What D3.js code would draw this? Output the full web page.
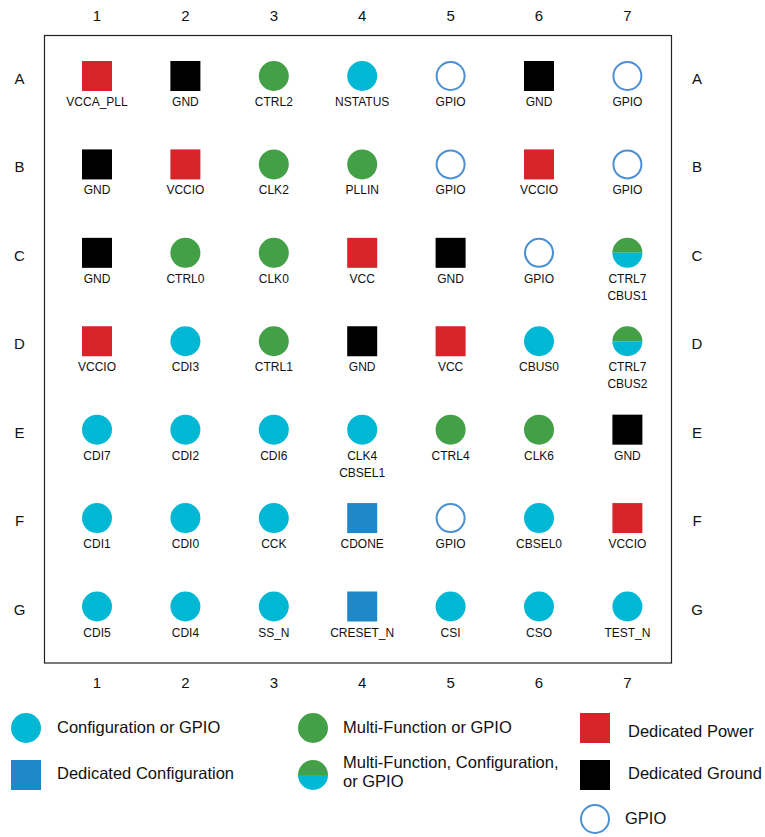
<!DOCTYPE html>
<html>
<head>
<meta charset="utf-8">
<script src="https://cdn.jsdelivr.net/npm/d3@7"></script>
<style>
  body { margin: 0; background: #fff; }
  text { font-family: "Liberation Sans", Arial, sans-serif; fill: #111; }
</style>
</head>
<body>
<svg id="pinout" width="765" height="837"></svg>
<script>
// pin grid data
var columns = ["1", "2", "3", "4", "5", "6", "7"];
var rows = ["A", "B", "C", "D", "E", "F", "G"];

// pin names, row by row (\n = second line)
var pinNames = [
    ["VCCA_PLL", "GND", "CTRL2", "NSTATUS", "GPIO", "GND", "GPIO"],
    ["GND", "VCCIO", "CLK2", "PLLIN", "GPIO", "VCCIO", "GPIO"],
    ["GND", "CTRL0", "CLK0", "VCC", "GND", "GPIO", "CTRL7\nCBUS1"],
    ["VCCIO", "CDI3", "CTRL1", "GND", "VCC", "CBUS0", "CTRL7\nCBUS2"],
    ["CDI7", "CDI2", "CDI6", "CLK4\nCBSEL1", "CTRL4", "CLK6", "GND"],
    ["CDI1", "CDI0", "CCK", "CDONE", "GPIO", "CBSEL0", "VCCIO"],
    ["CDI5", "CDI4", "SS_N", "CRESET_N", "CSI", "CSO", "TEST_N"]
];

// pin types: cfg, dcfg, multi, mixed, pwr, gnd, gpio
var pinTypes = [
    ["pwr", "gnd", "multi", "cfg", "gpio", "gnd", "gpio"],
    ["gnd", "pwr", "multi", "multi", "gpio", "pwr", "gpio"],
    ["gnd", "multi", "multi", "pwr", "gnd", "gpio", "mixed"],
    ["pwr", "cfg", "multi", "gnd", "pwr", "cfg", "mixed"],
    ["cfg", "cfg", "cfg", "cfg", "multi", "multi", "gnd"],
    ["cfg", "cfg", "cfg", "dcfg", "gpio", "cfg", "pwr"],
    ["cfg", "cfg", "cfg", "dcfg", "cfg", "cfg", "cfg"]
];

// legend entries
var legendTypes = ["cfg", "dcfg", "multi", "mixed", "pwr", "gnd", "gpio"];
var legendLabels = [
    "Configuration or GPIO",
    "Dedicated Configuration",
    "Multi-Function or GPIO",
    "Multi-Function, Configuration,\nor GPIO",
    "Dedicated Power",
    "Dedicated Ground",
    "GPIO"
];

var colors = {
    cfg: "#00b8d4",
    dcfg: "#1e88c8",
    multi: "#43a047",
    pwr: "#d7232a",
    gnd: "#000000",
    gpio: "#4a90d2"
};

var svg = d3.select("#pinout");
var half = 15;

var x = d3.scalePoint().domain(columns).range([97, 627.4]);
var y = d3.scalePoint().domain(rows).range([76, 606.5]);

// the package outline
svg.append("rect")
    .attr("x", 44.5).attr("y", 35.5)
    .attr("width", 627).attr("height", 627.5)
    .attr("fill", "none")
    .attr("stroke", "#222")
    .attr("stroke-width", 1.2);

// column + row labels
var colLabels = svg.append("g");
columns.forEach(function(c) {
    [21, 688].forEach(function(yy) {
        colLabels.append("text")
            .attr("x", x(c)).attr("y", yy)
            .attr("text-anchor", "middle")
            .attr("font-size", 15)
            .text(c);
    });
});
rows.forEach(function(r) {
    [19.5, 697].forEach(function(xx) {
        colLabels.append("text")
            .attr("x", xx).attr("y", y(r) + 8)
            .attr("text-anchor", "middle")
            .attr("font-size", 15)
            .text(r);
    });
});

function drawSymbol(g, type) {
    if (type == "pwr" || type == "gnd" || type == "dcfg") {
        g.append("rect")
            .attr("x", -half).attr("y", -half)
            .attr("width", half * 2).attr("height", half * 2)
            .attr("fill", colors[type]);
    } else if (type == "gpio") {
        g.append("circle")
            .attr("r", half - 1)
            .attr("fill", "#fff")
            .attr("stroke", colors.gpio)
            .attr("stroke-width", 2);
    } else if (type == "mixed") {
        var arc = d3.arc().innerRadius(0).outerRadius(half);
        g.append("path")
            .attr("d", arc({startAngle: -Math.PI / 2, endAngle: Math.PI / 2}))
            .attr("fill", colors.multi);
        g.append("path")
            .attr("d", arc({startAngle: Math.PI / 2, endAngle: Math.PI * 1.5}))
            .attr("fill", colors.cfg);
    } else {
        g.append("circle")
            .attr("r", half)
            .attr("fill", colors[type]);
    }
}

// pins
var pins = [];
rows.forEach(function(r, i) {
    columns.forEach(function(c, j) {
        pins.push({row: r, col: c, name: pinNames[i][j], type: pinTypes[i][j]});
    });
});

var pin = svg.append("g").selectAll(".pin")
    .data(pins)
    .enter()
        .append("g")
        .attr("class", "pin")
        .attr("transform", function(d) {
            return "translate(" + x(d.col) + "," + y(d.row) + ")";
        });

pin.each(function(d) { drawSymbol(d3.select(this), d.type); });

pin.append("text")
    .attr("text-anchor", "middle")
    .attr("font-size", 12)
    .selectAll("tspan")
    .data(function(d) { return d.name.split("\n"); })
    .enter()
        .append("tspan")
        .attr("x", 0)
        .attr("y", function(d, i) { return 30 + i * 17; })
        .text(function(d) { return d; });

// legend layout
var legSymX = [26, 26, 313, 313, 595, 595, 595];
var legSymY = [728, 775, 728, 775, 728, 775, 819];
var legTextX = [57, 57, 343, 343, 628, 628, 625];
var legTextY = [733, 779, 733, 768, 737, 779, 824];

var leg = svg.append("g").selectAll(".legend")
    .data(legendTypes)
    .enter()
        .append("g")
        .attr("class", "legend");

leg.append("g")
    .attr("transform", function(d, i) {
        return "translate(" + legSymX[i] + "," + legSymY[i] + ")";
    })
    .each(function(d) { drawSymbol(d3.select(this), d); });

leg.append("text")
    .attr("font-size", 16.5)
    .selectAll("tspan")
    .data(function(d, i) {
        return legendLabels[i].split("\n").map(function(l, k) {
            return {text: l, x: legTextX[i], y: legTextY[i] + k * 19};
        });
    })
    .enter()
        .append("tspan")
        .attr("x", function(d) { return d.x; })
        .attr("y", function(d) { return d.y; })
        .text(function(d) { return d.text; });
</script>
</body>
</html>
